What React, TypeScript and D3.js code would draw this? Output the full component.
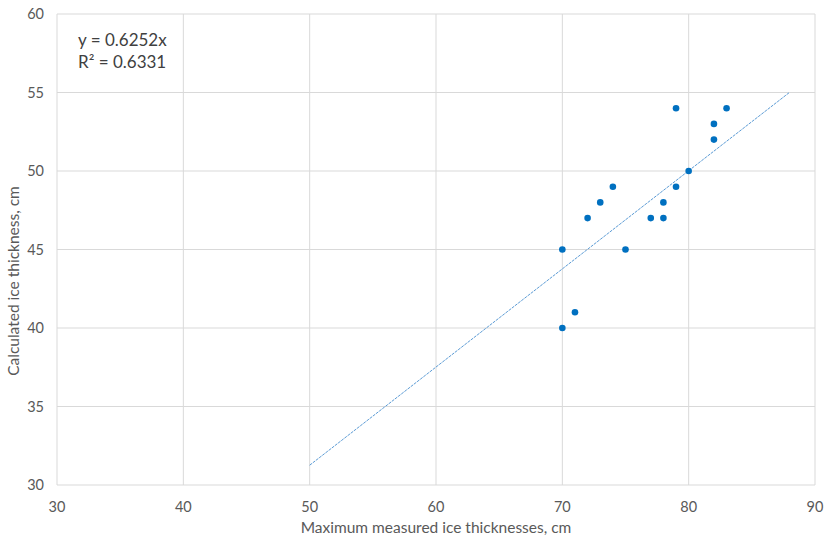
import React, { useEffect, useRef } from 'react';
import * as d3 from 'd3';

// measured (x) vs calculated (y) ice thickness, cm
const measured = [70, 70, 71, 72, 73, 74, 75, 77, 78, 78, 79, 79, 80, 82, 82, 83];
const calculated = [45, 40, 41, 47, 48, 49, 45, 47, 47, 48, 49, 54, 50, 53, 52, 54];

const xTicks = [30, 40, 50, 60, 70, 80, 90];
const yTicks = [30, 35, 40, 45, 50, 55, 60];

const slope = 0.6252;
const trendRange = [50, 88];
const eqLines = ['y = 0.6252x', 'R² = 0.6331'];

const App: React.FC = () => {
    const ref = useRef<SVGSVGElement>(null);

    useEffect(() => {
        if (!ref.current) return;
        const svg = d3.select(ref.current);
        svg.selectAll('*').remove();

        const left = 57, right = 815, top = 14, bottom = 485;
        const font = 'Lato, "Open Sans", sans-serif';

        const x = d3.scaleLinear().domain([30, 90]).range([left, right]);
        const y = d3.scaleLinear().domain([30, 60]).range([bottom, top]);

        // gridlines
        svg.append('g').selectAll('line').data(xTicks).join('line')
            .attr('x1', d => x(d)).attr('x2', d => x(d))
            .attr('y1', top).attr('y2', bottom)
            .attr('stroke', '#d9d9d9').attr('stroke-width', 1);
        svg.append('g').selectAll('line').data(yTicks).join('line')
            .attr('x1', left).attr('x2', right)
            .attr('y1', d => y(d)).attr('y2', d => y(d))
            .attr('stroke', '#d9d9d9').attr('stroke-width', 1);

        // tick labels
        svg.append('g').selectAll('text').data(xTicks).join('text')
            .attr('x', d => x(d)).attr('y', bottom + 27)
            .attr('text-anchor', 'middle')
            .attr('font-family', font).attr('font-size', 14.5).attr('fill', '#595959')
            .text(d => d);
        svg.append('g').selectAll('text').data(yTicks).join('text')
            .attr('x', left - 13).attr('y', d => y(d) + 5)
            .attr('text-anchor', 'end')
            .attr('font-family', font).attr('font-size', 14.5).attr('fill', '#595959')
            .text(d => d);

        // axis titles
        svg.append('text')
            .attr('x', 436).attr('y', 533)
            .attr('text-anchor', 'middle')
            .attr('font-family', font).attr('font-size', 15.5).attr('fill', '#595959')
            .text('Maximum measured ice thicknesses, cm');
        svg.append('text')
            .attr('transform', 'translate(19,281) rotate(-90)')
            .attr('text-anchor', 'middle')
            .attr('font-family', font).attr('font-size', 15.5).attr('fill', '#595959')
            .text('Calculated ice thickness, cm');

        // trendline
        const line = d3.line<number>().x(d => x(d)).y(d => y(d * slope));
        svg.append('path')
            .datum(trendRange)
            .attr('d', line)
            .attr('fill', 'none')
            .attr('stroke', '#5b9bd5')
            .attr('stroke-width', 1)
            .attr('stroke-dasharray', '3,1');

        // points
        svg.append('g').selectAll('circle').data(measured).join('circle')
            .attr('cx', d => x(d))
            .attr('cy', (_, i) => y(calculated[i]))
            .attr('r', 3.3)
            .attr('fill', '#0070c0');

        // equation label
        svg.append('g').selectAll('text').data(eqLines).join('text')
            .attr('x', 78).attr('y', (_, i) => 46 + i * 22)
            .attr('font-family', font).attr('font-size', 17).attr('fill', '#404040')
            .text(d => d);
    }, []);

    return (
        <svg ref={ref} width={828} height={539}
            style={{ position: 'absolute', left: 0, top: 0, background: '#fff' }} />
    );
};

export default App;
